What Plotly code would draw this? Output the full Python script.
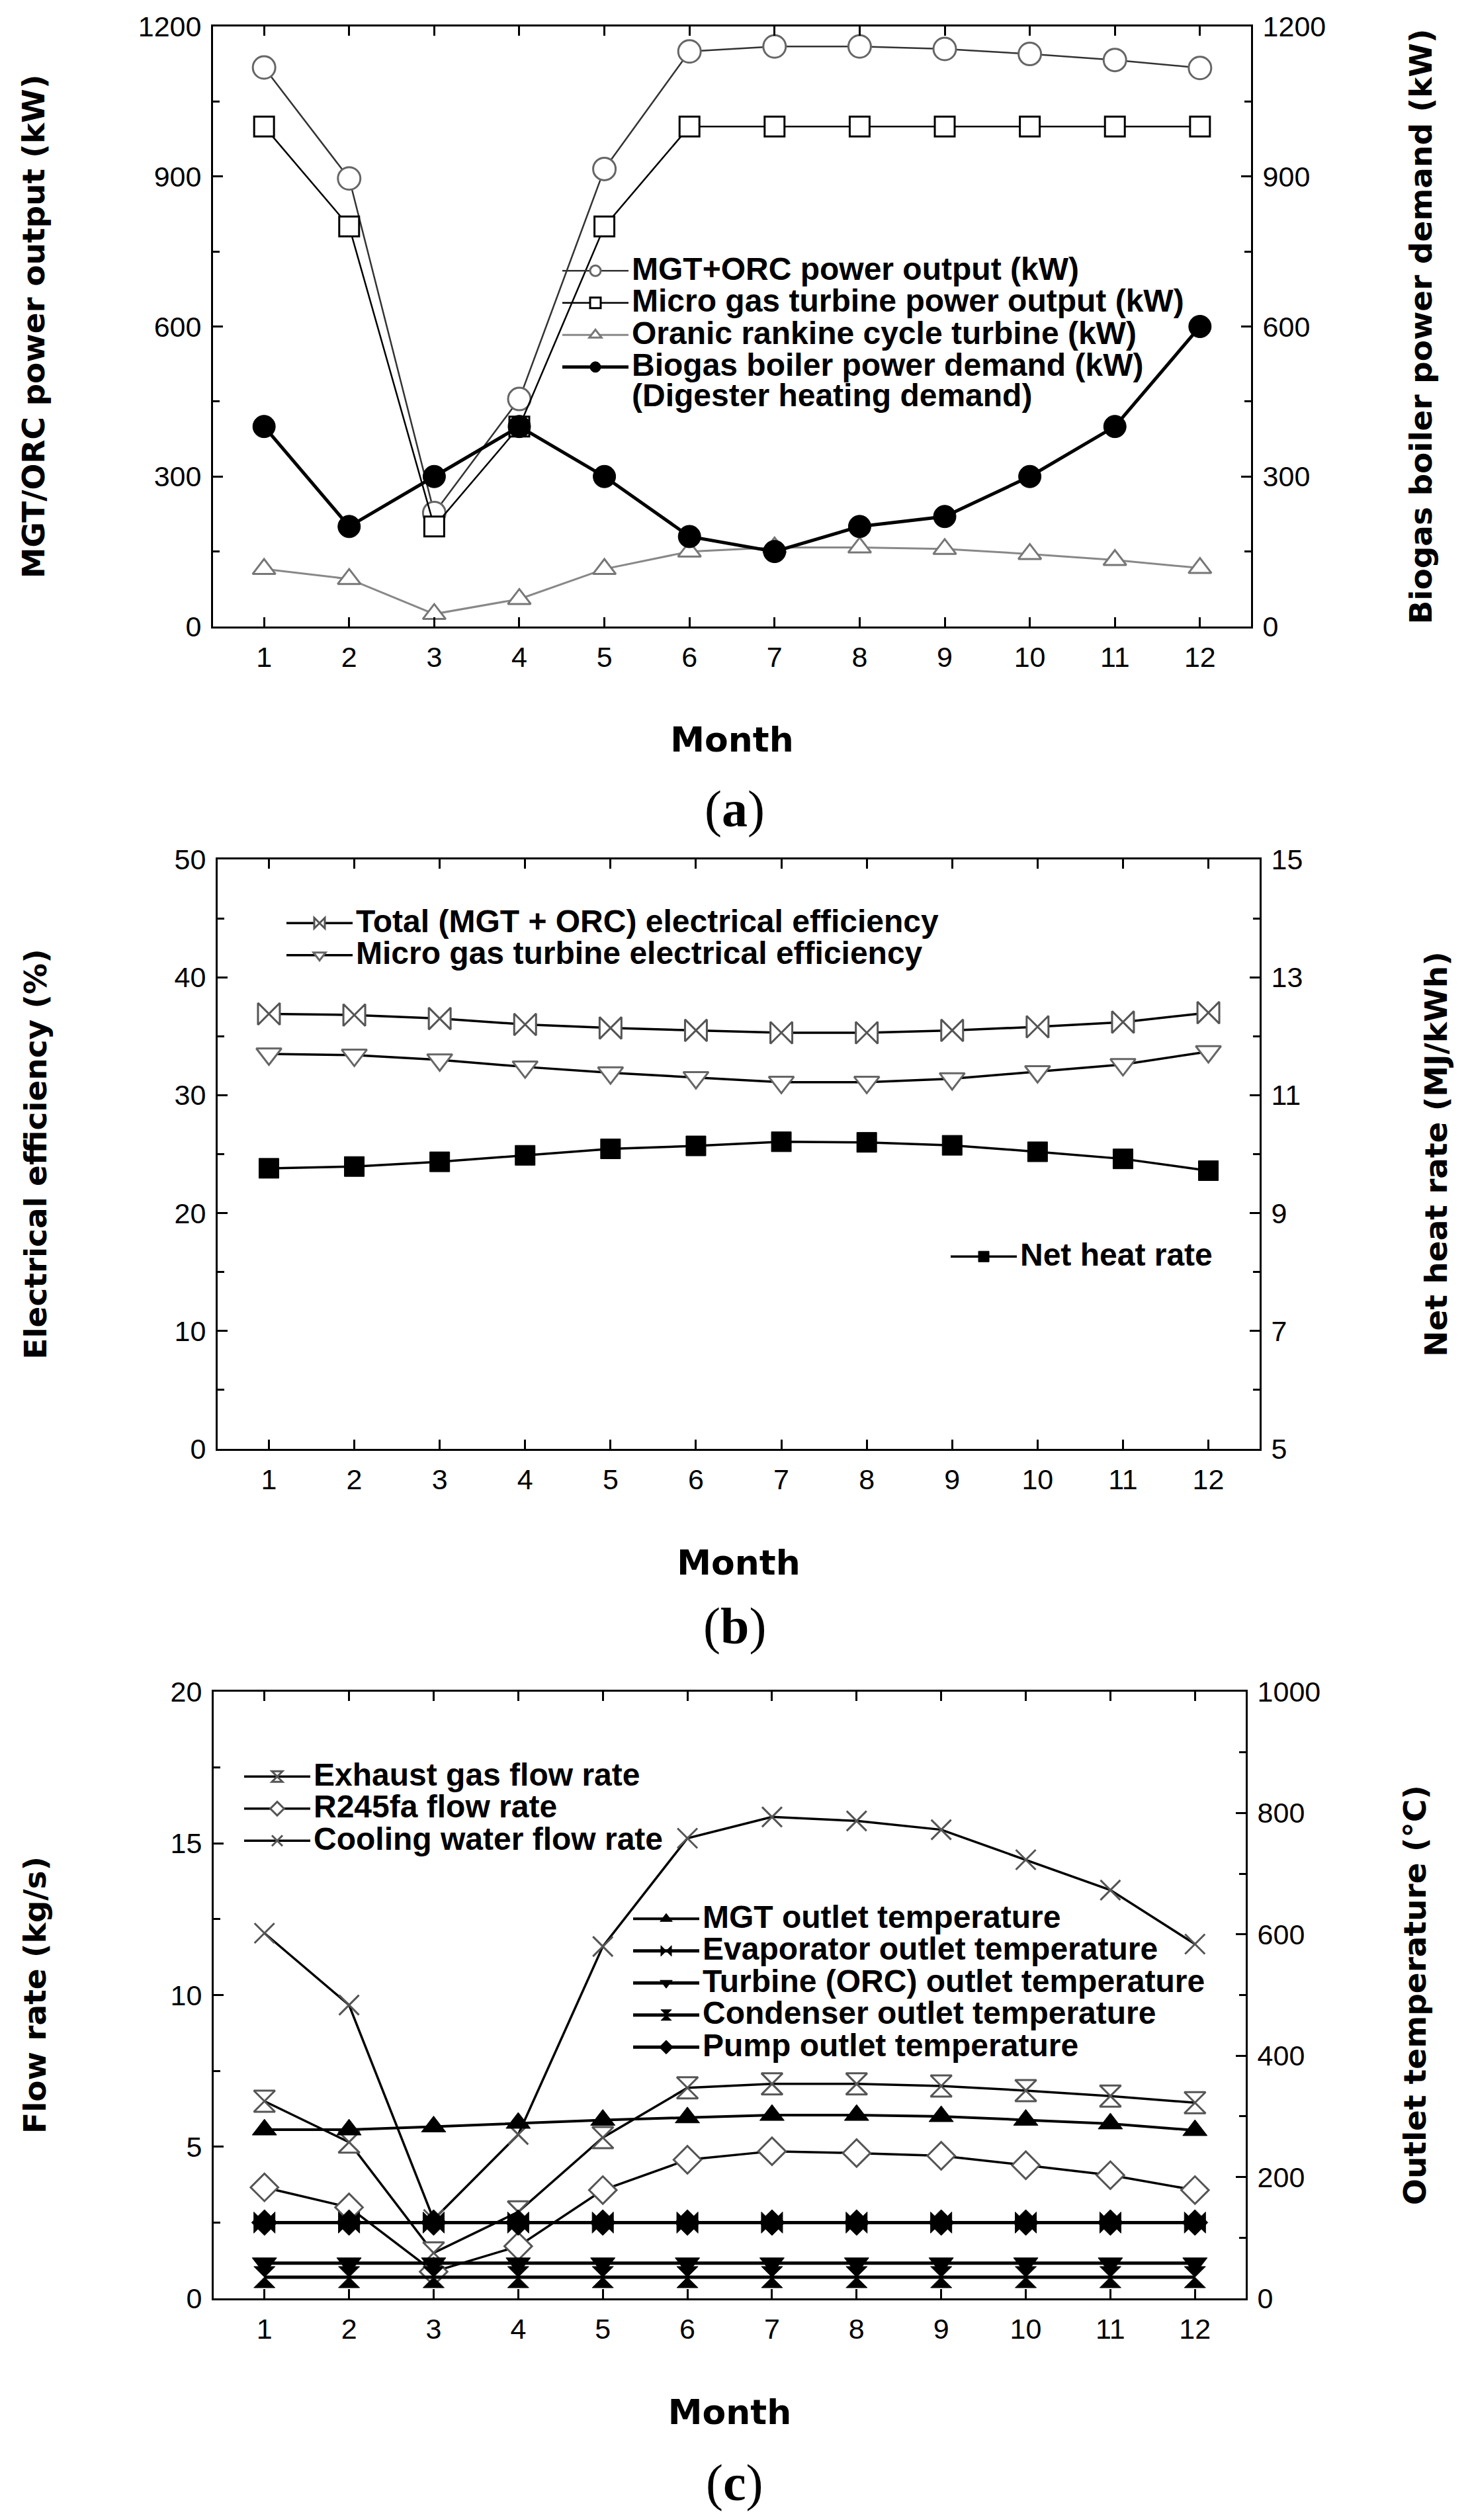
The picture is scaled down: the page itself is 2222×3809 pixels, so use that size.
import plotly.graph_objects as go

# ---------------- data ----------------
months = [1, 2, 3, 4, 5, 6, 7, 8, 9, 10, 11, 12]

# panel (a)
mgt_orc_power = [1118, 896, 227, 455, 915, 1150, 1160, 1160, 1155, 1145, 1133, 1117]
mgt_power = [1000, 800, 200, 400, 800, 1000, 1000, 1000, 1000, 1000, 1000, 1000]
orc_power = [115, 95, 25, 55, 115, 150, 158, 158, 155, 145, 133, 117]
biogas_demand = [400, 200, 300, 400, 300, 180, 150, 200, 220, 300, 400, 600]

# panel (b)
total_eff = [36.9, 36.8, 36.5, 36.0, 35.7, 35.5, 35.3, 35.3, 35.5, 35.8, 36.2, 37.0]
mgt_eff = [33.5, 33.4, 33.0, 32.4, 31.9, 31.5, 31.1, 31.1, 31.4, 32.0, 32.6, 33.7]
net_heat_rate = [9.76, 9.79, 9.87, 9.98, 10.09, 10.14, 10.21, 10.20, 10.15, 10.04, 9.92, 9.72]

# panel (c)
exhaust_flow = [6.5, 5.15, 1.5, 2.85, 5.3, 6.94, 7.07, 7.07, 7.0, 6.85, 6.67, 6.45]
r245fa_flow = [3.66, 3.0, 0.88, 1.72, 3.57, 4.57, 4.85, 4.79, 4.7, 4.39, 4.06, 3.57]
cooling_flow = [12.04, 9.67, 2.6, 5.4, 11.6, 15.17, 15.87, 15.74, 15.45, 14.46, 13.46, 11.68]
mgt_out_temp = [278, 278, 283, 289, 294, 298, 302, 302, 300, 294, 288, 277]
evap_out_temp = [125, 125, 125, 125, 125, 125, 125, 125, 125, 125, 125, 125]
turb_out_temp = [58, 58, 58, 58, 58, 58, 58, 58, 58, 58, 58, 58]
cond_out_temp = [35, 35, 35, 35, 35, 35, 35, 35, 35, 35, 35, 35]
pump_out_temp = [125, 125, 125, 125, 125, 125, 125, 125, 125, 125, 125, 125]

# ---------------- page geometry ----------------
PAGE_W, PAGE_H = 2222, 3809
BODY = 8  # default body margin of the html page
W, H = PAGE_W - 2 * BODY, PAGE_H - 2 * BODY

tick_font = dict(family="Liberation Sans, Arial, sans-serif", size=43, color="black")
ytitle_font = dict(family="DejaVu Sans, Verdana, sans-serif", size=47, color="black", weight="bold")
xtitle_font = dict(family="DejaVu Sans, Verdana, sans-serif", size=52, color="black", weight="bold")
legend_font = dict(family="Liberation Sans, Arial, sans-serif", size=35, color="black", weight="bold")
LEG_PX = 48  # visible legend text size


def py(px):
    return 1 - (px - BODY) / H


def px_x(px):
    return (px - BODY) / W


def lab(text):
    return "<br>".join("<span style='font-size:%dpx'>%s</span>" % (LEG_PX, t) for t in text.split("\n"))


def open_marker(symbol, size, edge="#555555"):
    return dict(symbol=symbol, size=size, color="white", line=dict(color=edge, width=3))


def solid_marker(symbol, size):
    return dict(symbol=symbol, size=size, color="black", line=dict(color="black", width=1))


fig = go.Figure()

# ---- panel (a)
fig.add_trace(go.Scatter(x=months, y=mgt_orc_power, mode="lines+markers",
                         name=lab("MGT+ORC power output (kW)"),
                         line=dict(color="#333333", width=2.5),
                         marker=open_marker("circle", 34, "#666666"),
                         xaxis="x", yaxis="y", legend="legend"))
fig.add_trace(go.Scatter(x=months, y=mgt_power, mode="lines+markers",
                         name=lab("Micro gas turbine power output (kW)"),
                         line=dict(color="black", width=2.5),
                         marker=open_marker("square", 30, "black"),
                         xaxis="x", yaxis="y", legend="legend"))
fig.add_trace(go.Scatter(x=months, y=orc_power, mode="lines+markers",
                         name=lab("Oranic rankine cycle turbine (kW)"),
                         line=dict(color="#888888", width=3),
                         marker=open_marker("triangle-up", 30, "#777777"),
                         xaxis="x", yaxis="y", legend="legend"))
fig.add_trace(go.Scatter(x=months, y=biogas_demand, mode="lines+markers",
                         name=lab("Biogas boiler power demand (kW)\n(Digester heating demand)"),
                         line=dict(color="black", width=5),
                         marker=solid_marker("circle", 34),
                         xaxis="x", yaxis="y2", legend="legend"))

# ---- panel (b)
fig.add_trace(go.Scatter(x=months, y=total_eff, mode="lines+markers",
                         name=lab("Total (MGT + ORC) electrical efficiency"),
                         line=dict(color="black", width=3.5),
                         marker=open_marker("bowtie", 33, "#555555"),
                         xaxis="x2", yaxis="y3", legend="legend2"))
fig.add_trace(go.Scatter(x=months, y=mgt_eff, mode="lines+markers",
                         name=lab("Micro gas turbine electrical efficiency"),
                         line=dict(color="black", width=3.5),
                         marker=open_marker("triangle-down", 33, "#666666"),
                         xaxis="x2", yaxis="y3", legend="legend2"))
fig.add_trace(go.Scatter(x=months, y=net_heat_rate, mode="lines+markers",
                         name=lab("Net heat rate"),
                         line=dict(color="black", width=3.5),
                         marker=solid_marker("square", 30),
                         xaxis="x2", yaxis="y4", legend="legend3"))

# ---- panel (c)
fig.add_trace(go.Scatter(x=months, y=exhaust_flow, mode="lines+markers",
                         name=lab("Exhaust gas flow rate"),
                         line=dict(color="black", width=3.5),
                         marker=open_marker("hourglass", 32, "#555555"),
                         xaxis="x3", yaxis="y5", legend="legend4"))
fig.add_trace(go.Scatter(x=months, y=r245fa_flow, mode="lines+markers",
                         name=lab("R245fa flow rate"),
                         line=dict(color="black", width=3.5),
                         marker=open_marker("diamond", 32, "#555555"),
                         xaxis="x3", yaxis="y5", legend="legend4"))
fig.add_trace(go.Scatter(x=months, y=cooling_flow, mode="lines+markers",
                         name=lab("Cooling water flow rate"),
                         line=dict(color="black", width=3.5),
                         marker=dict(symbol="x-thin", size=30, color="#555555",
                                     line=dict(color="#555555", width=3)),
                         xaxis="x3", yaxis="y5", legend="legend4"))
fig.add_trace(go.Scatter(x=months, y=mgt_out_temp, mode="lines+markers",
                         name=lab("MGT outlet temperature"),
                         line=dict(color="black", width=4),
                         marker=solid_marker("triangle-up", 32),
                         xaxis="x3", yaxis="y6", legend="legend5"))
fig.add_trace(go.Scatter(x=months, y=evap_out_temp, mode="lines+markers",
                         name=lab("Evaporator outlet temperature"),
                         line=dict(color="black", width=5),
                         marker=solid_marker("bowtie", 32),
                         xaxis="x3", yaxis="y6", legend="legend5"))
fig.add_trace(go.Scatter(x=months, y=turb_out_temp, mode="lines+markers",
                         name=lab("Turbine (ORC) outlet temperature"),
                         line=dict(color="black", width=5),
                         marker=solid_marker("triangle-down", 32),
                         xaxis="x3", yaxis="y6", legend="legend5"))
fig.add_trace(go.Scatter(x=months, y=cond_out_temp, mode="lines+markers",
                         name=lab("Condenser outlet temperature"),
                         line=dict(color="black", width=5),
                         marker=solid_marker("hourglass", 32),
                         xaxis="x3", yaxis="y6", legend="legend5"))
fig.add_trace(go.Scatter(x=months, y=pump_out_temp, mode="lines+markers",
                         name=lab("Pump outlet temperature"),
                         line=dict(color="black", width=5),
                         marker=solid_marker("diamond", 30),
                         xaxis="x3", yaxis="y6", legend="legend5"))


# ---------------- axes ----------------
def x_axis(domain, anchor):
    return dict(domain=domain, anchor=anchor, range=[0.4, 12.6], automargin=False,
                tickmode="array", tickvals=months,
                ticks="inside", ticklen=14, tickwidth=3, tickcolor="black",
                showline=True, linewidth=3, linecolor="black", mirror="ticks",
                showgrid=False, zeroline=False, tickfont=tick_font,
                ticklabelstandoff=6,
                title=dict(text="Month", font=xtitle_font, standoff=85))


def y_axis(domain, anchor, rng, dtick, minor_dtick, title, standoff, side="left", overlay=None):
    d = dict(domain=domain, anchor=anchor, range=rng, tick0=rng[0], dtick=dtick,
             automargin=False,
             ticks="inside", ticklen=15, tickwidth=3, tickcolor="black",
             minor=dict(ticks="inside", ticklen=10, tickwidth=3, tickcolor="black",
                        dtick=minor_dtick, tick0=rng[0], showgrid=False),
             showline=True, linewidth=3, linecolor="black",
             showgrid=False, zeroline=False, tickfont=tick_font, side=side,
             ticklabelstandoff=6,
             title=dict(text=title, font=ytitle_font, standoff=standoff))
    if overlay:
        d["overlaying"] = overlay
    return d


dom_a = [py(947), py(40)]
dom_b = [py(2190), py(1299)]
dom_c = [py(3474), py(2557)]
xd_a = [px_x(322), px_x(1891)]
xd_b = [px_x(329), px_x(1904)]
xd_c = [px_x(323), px_x(1883)]

legend_common = dict(xanchor="left", yanchor="top", font=legend_font,
                     bgcolor="rgba(0,0,0,0)", itemwidth=100, valign="top",
                     tracegroupgap=0, borderwidth=0)

fig.update_layout(
    template="none",
    width=W, height=H, autosize=False,
    margin=dict(l=0, r=0, t=0, b=0, pad=0),
    paper_bgcolor="white", plot_bgcolor="white",
    showlegend=True,
    xaxis=x_axis(xd_a, "y"),
    yaxis=y_axis(dom_a, "x", [0, 1200], 300, 150, "MGT/ORC power output (kW)", 127),
    yaxis2=y_axis(dom_a, "x", [0, 1200], 300, 150, "Biogas boiler power demand (kW)", 128,
                  side="right", overlay="y"),
    xaxis2=x_axis(xd_b, "y3"),
    yaxis3=y_axis(dom_b, "x2", [0, 50], 10, 5, "Electrical efficiency (%)", 179),
    yaxis4=y_axis(dom_b, "x2", [5, 15], 2, 1, "Net heat rate (MJ/kWh)", 186,
                  side="right", overlay="y3"),
    xaxis3=x_axis(xd_c, "y5"),
    yaxis5=y_axis(dom_c, "x3", [0, 20], 5, 2.5, "Flow rate (kg/s)", 174),
    yaxis6=y_axis(dom_c, "x3", [0, 1000], 200, 100, "Outlet temperature (°C)", 127,
                  side="right", overlay="y5"),
    legend=dict(x=px_x(845), y=py(380), **legend_common),
    legend2=dict(x=px_x(428), y=py(1366), **legend_common),
    legend3=dict(x=px_x(1432), y=py(1870), **legend_common),
    legend4=dict(x=px_x(364), y=py(2656), **legend_common),
    legend5=dict(x=px_x(952), y=py(2871), **legend_common),
)

panel_font = dict(family="Liberation Serif, Times New Roman, serif", size=78, color="black")
for label, ypx in [("a", 1222), ("b", 2457), ("c", 3752)]:
    fig.add_annotation(text="(<b>" + label + "</b>)", x=px_x(1110), y=py(ypx),
                       xref="paper", yref="paper", showarrow=False,
                       xanchor="center", yanchor="middle", font=panel_font)

fig.write_html("out.html")
